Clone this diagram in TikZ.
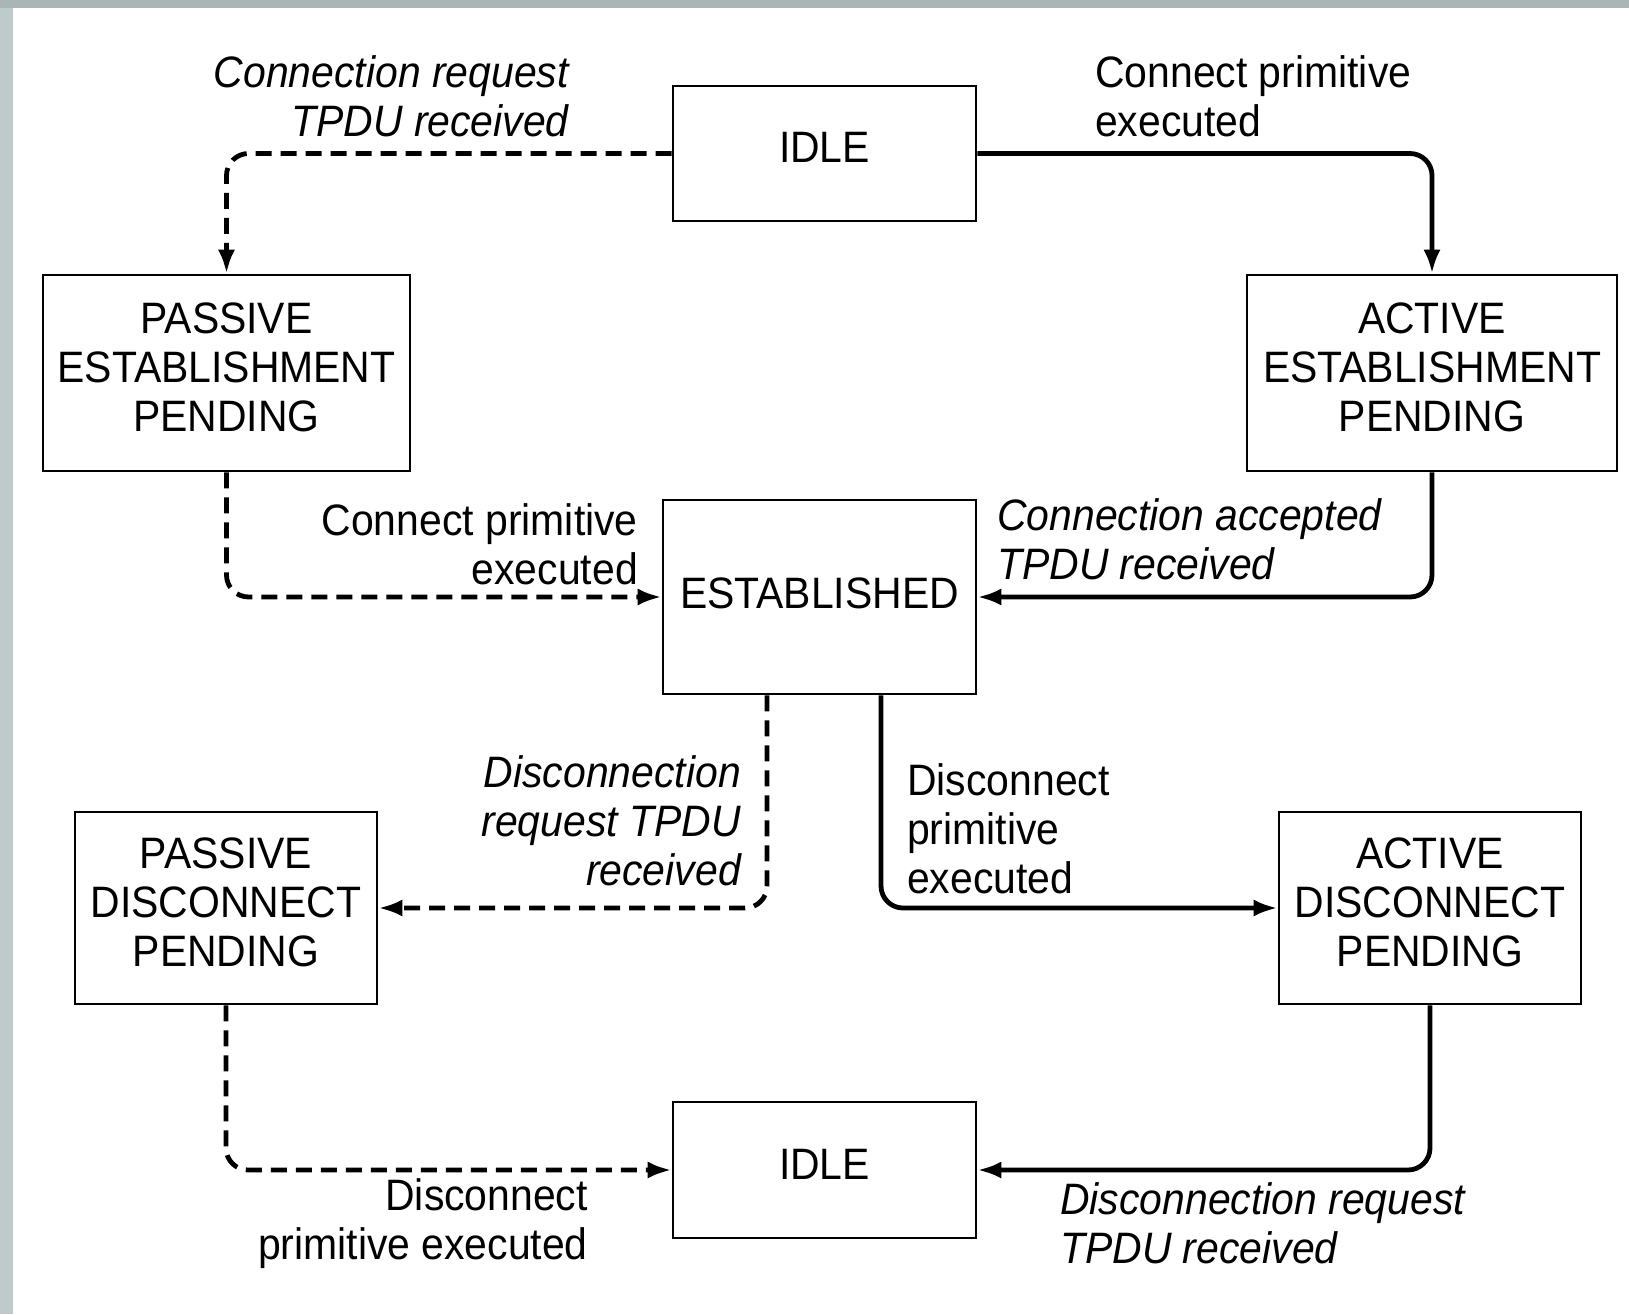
\documentclass[tikz,border=0pt]{standalone}
\usepackage{fontspec}
\setmainfont{Liberation Sans}[FakeStretch=0.93]
\usetikzlibrary{arrows.meta}
\definecolor{framegray}{HTML}{BFCACA}
\definecolor{framegraytop}{HTML}{AAB6B6}
\begin{document}
\begin{tikzpicture}[x=1pt,y=-1pt,
  font=\fontsize{44}{49}\selectfont,
  state/.style={draw,line width=2.6pt,align=center,inner sep=0pt,text depth=12pt},
  lbl/.style={inner sep=0pt},
  lblit/.style={inner sep=0pt,font=\fontsize{44}{49}\selectfont\itshape},
  conn/.style={line width=4.8pt,rounded corners=22pt,
    -{Latex[length=24pt,width=17pt]}},
  dconn/.style={conn,dash pattern=on 16pt off 9pt}]
% page and frame
\useasboundingbox (0,0) rectangle (1629,1314);
\fill[white] (0,0) rectangle (1629,1314);
\fill[framegray] (0,0) rectangle (13,1314);
\fill[framegraytop] (0,0) rectangle (1629,8);

% states
\node[state,minimum width=303pt,minimum height=135pt] (idleA) at (824.5,153.5) {IDLE};
\node[state,minimum width=367pt,minimum height=196pt] (pest) at (226.5,373) {PASSIVE\\ESTABLISHMENT\\PENDING};
\node[state,minimum width=370pt,minimum height=196pt] (aest) at (1432,373) {ACTIVE\\ESTABLISHMENT\\PENDING};
\node[state,minimum width=313pt,minimum height=194pt,text depth=8pt] (est) at (819.5,597) {ESTABLISHED};
\node[state,minimum width=302pt,minimum height=192pt] (pdis) at (226,908) {PASSIVE\\DISCONNECT\\PENDING};
\node[state,minimum width=302pt,minimum height=192pt] (adis) at (1430,908) {ACTIVE\\DISCONNECT\\PENDING};
\node[state,minimum width=303pt,minimum height=136pt] (idleB) at (824.5,1170) {IDLE};

% exits from the bottom of ESTABLISHED
\coordinate (estL) at ([xshift=-52.5pt]est.south);
\coordinate (estR) at ([xshift=61.5pt]est.south);

% transitions
\draw[dconn] (idleA.west) -| (pest.north);
\draw[conn] (idleA.east) -| (aest.north);
\draw[dconn] (pest.south) |- (est.west);
\draw[conn] (aest.south) |- (est.east);
\draw[dconn] (estL) |- (pdis.east);
\draw[conn] (estR) |- (adis.west);
\draw[dconn] (pdis.south) |- (idleB.west);
\draw[conn] (adis.south) |- (idleB.east);

% transition labels
\node[lblit,align=right,anchor=east] (l1) at (569,96) {Connection request\\TPDU received};
\node[lbl,align=left,anchor=west] (l2) at (1095,96) {Connect primitive\\executed};
\node[lbl,align=right,anchor=east] (l3) at (638,544) {Connect primitive\\executed};
\node[lblit,align=left,anchor=west] (l4) at (997,539) {Connection accepted\\TPDU received};
\node[lblit,align=right,anchor=east] (l5) at (741,821) {Disconnection\\request TPDU\\received};
\node[lbl,align=left,anchor=west] (l6) at (907,829) {Disconnect\\primitive\\executed};
\node[lbl,align=right,anchor=east] (l7) at (588,1224) {Disconnect\\primitive executed};
\node[lblit,align=left,anchor=west] (l8) at (1060,1223) {Disconnection request\\TPDU received};
\end{tikzpicture}
\end{document}
